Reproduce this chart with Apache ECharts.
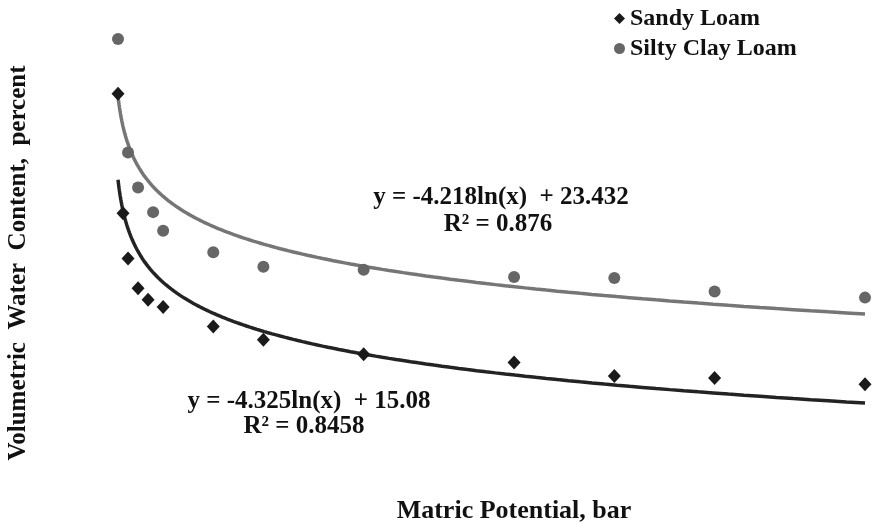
<!DOCTYPE html>
<html>
<head>
<meta charset="utf-8">
<script src="https://cdn.jsdelivr.net/npm/echarts@6/dist/echarts.min.js"></script>
<style>
html,body{margin:0;padding:0;background:#fff;}
#chart{width:872px;height:524px;}
</style>
</head>
<body>
<div id="chart"></div>
<script>
// Matric potential (bar) and volumetric water content (%)
var sandyX = [0.1, 0.2, 0.3, 0.5, 0.7, 1, 2, 3, 5, 8, 10, 12, 15];
var sandyY = [33.4, 21.8, 17.4, 14.5, 13.4, 12.7, 10.8, 9.5, 8.1, 7.3, 6.0, 5.8, 5.2];
var siltyX = [0.1, 0.3, 0.5, 0.8, 1, 2, 3, 5, 8, 10, 12, 15];
var siltyY = [38.7, 27.7, 24.3, 21.9, 20.1, 18.0, 16.6, 16.3, 15.6, 15.5, 14.2, 13.6];
// logarithmic trendlines shown on the chart: y = a*ln(x) + b
var sandyTrend = [-4.325, 15.08];
var siltyTrend = [-4.218, 23.432];
var trendRange = [0.1, 15];

var FONT = '"Liberation Serif", "Times New Roman", serif';

function trendData(coef) {
  var pts = [];
  var lo = Math.log(trendRange[0]), hi = Math.log(trendRange[1]);
  for (var i = 0; i <= 200; i++) {
    var x = Math.exp(lo + (hi - lo) * i / 200);
    pts.push([x, coef[0] * Math.log(x) + coef[1]]);
  }
  return pts;
}
function pairs(xs, ys) { return xs.map(function (x, i) { return [x, ys[i]]; }); }
function txt(s, x, y, size, rot) {
  var o = { type: 'text', x: x, y: y, style: { text: s, fontFamily: FONT, fontSize: size, fontWeight: 'bold', fill: '#111', textAlign: 'center', textVerticalAlign: 'middle' } };
  if (rot) o.rotation = rot;
  return o;
}

var chart = echarts.init(document.getElementById('chart'));
chart.setOption({
  backgroundColor: '#ffffff',
  animation: false,
  grid: { left: 113, right: 7, top: 25.7, bottom: 86.3 },
  xAxis: {
    type: 'value', min: 0, max: 15,
    axisLine: { show: false }, axisTick: { show: false },
    axisLabel: { show: false }, splitLine: { show: false }
  },
  yAxis: {
    type: 'value', min: 0, max: 40,
    axisLine: { show: false }, axisTick: { show: false },
    axisLabel: { show: false }, splitLine: { show: false }
  },
  legend: {
    orient: 'vertical', left: 609, top: 1,
    itemWidth: 11, itemHeight: 11, itemGap: 5,
    data: ['Sandy Loam', 'Silty Clay Loam'],
    textStyle: { fontFamily: FONT, fontSize: 24, fontWeight: 'bold', color: '#111', lineHeight: 25 }
  },
  series: [
    {
      name: 'Silty Clay Loam trend', type: 'line', showSymbol: false, symbol: 'none',
      data: trendData(siltyTrend), lineStyle: { color: '#767676', width: 3.5 }, z: 1, silent: true
    },
    {
      name: 'Sandy Loam trend', type: 'line', showSymbol: false, symbol: 'none',
      data: trendData(sandyTrend), lineStyle: { color: '#232323', width: 3.5 }, z: 1, silent: true
    },
    {
      name: 'Sandy Loam', type: 'scatter', symbol: 'diamond', symbolSize: [13, 14],
      data: pairs(sandyX, sandyY), itemStyle: { color: '#1a1a1a', opacity: 1 }, z: 3
    },
    {
      name: 'Silty Clay Loam', type: 'scatter', symbol: 'circle', symbolSize: 12,
      data: pairs(siltyX, siltyY), itemStyle: { color: '#666666', opacity: 1 }, z: 3
    }
  ],
  graphic: [
    txt('y = -4.218ln(x)  + 23.432', 501, 198, 25),
    txt('R² = 0.876', 498, 225, 25),
    txt('y = -4.325ln(x)  + 15.08', 309, 402, 25),
    txt('R² = 0.8458', 304, 427, 25),
    txt('Matric Potential, bar', 514, 511, 26),
    txt('Volumetric  Water  Content,  percent', 19, 263, 25, Math.PI / 2)
  ]
});
</script>
</body>
</html>
